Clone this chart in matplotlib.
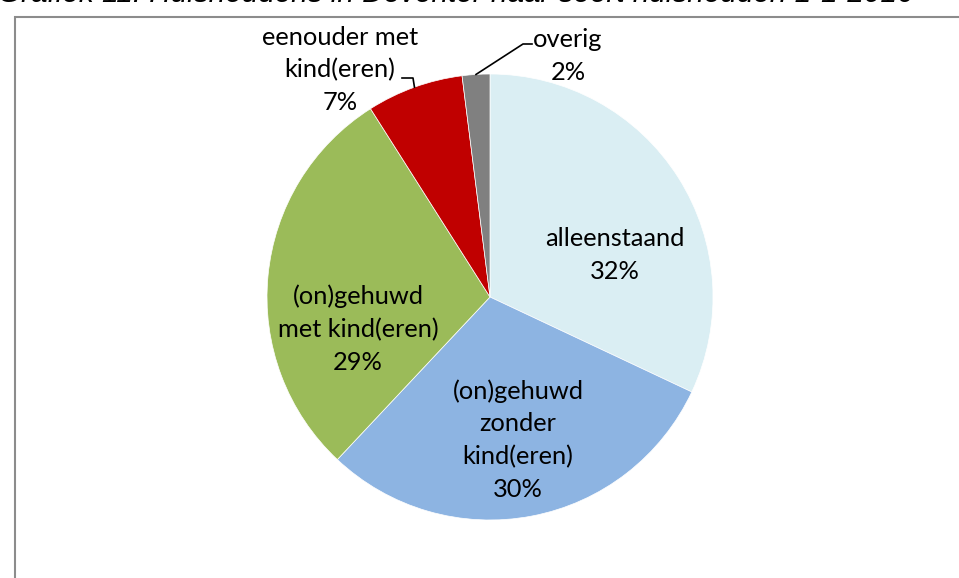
import matplotlib
matplotlib.use("Agg")
import matplotlib.pyplot as plt
import numpy as np
from matplotlib.patches import Rectangle

categories = ["alleenstaand", "(on)gehuwd\nzonder\nkind(eren)", "(on)gehuwd\nmet kind(eren)",
              "eenouder met\nkind(eren)", "overig"]
values = [32, 30, 29, 7, 2]
colors = ["#DAEEF3", "#8DB4E2", "#9BBB59", "#C00000", "#808080"]
title = "Grafiek 11: Huishoudens in Deventer naar soort huishouden 1-1-2016"

W, H = 959, 578
fig = plt.figure(figsize=(W / 100, H / 100), dpi=100)

# frame
fig.add_artist(Rectangle((15 / W, -0.1), 1.2, (H - 17) / H + 0.1, transform=fig.transFigure,
                         fill=False, edgecolor="#8c8c8c", linewidth=1.5))

# title (partially cut off at top, as in the reference)
fig.text(-2 / W, 1 - 2 / H, title, fontsize=21.4, style="italic", family="Liberation Sans",
         ha="left", va="baseline", color="black")

cx, cy, r = 490, 297, 223
ax = fig.add_axes([(cx - r) / W, (H - cy - r) / H, 2 * r / W, 2 * r / H])
wedges, _ = ax.pie(values, colors=colors, startangle=90, counterclock=False, radius=1,
                   wedgeprops=dict(edgecolor="white", linewidth=0.5))
ax.set_xlim(-1, 1)
ax.set_ylim(-1, 1)
ax.set_aspect("equal")
ax.axis("off")

def d(px, py):
    return ((px - cx) / r, (cy - py) / r)

pct = [f"{v}%" for v in values]
label_pos = [(615, 255), (518, 440), (358, 329), (340, 70), (568, 56)]
font = dict(family="Lato", fontsize=18.3, ha="center", va="center", linespacing=1.5)
for lab, p, (px, py) in zip(categories, pct, label_pos):
    x, y = d(px, py)
    ax.text(x, y, f"{lab}\n{p}", clip_on=False, **font)

# leader lines for small slices
cum = np.cumsum([0] + values)
total = sum(values)
elbows = {3: [(413, 78), (402, 78)], 4: [(523, 44), (532, 44)]}
for i, pts in elbows.items():
    mid = (cum[i] + cum[i + 1]) / 2 / total * 2 * np.pi
    ang = np.pi / 2 - mid
    xs = [np.cos(ang)] + [d(*p)[0] for p in pts]
    ys = [np.sin(ang)] + [d(*p)[1] for p in pts]
    ax.plot(xs, ys, color="black", linewidth=1.2, clip_on=False)

fig.savefig("out.png", dpi=100)
